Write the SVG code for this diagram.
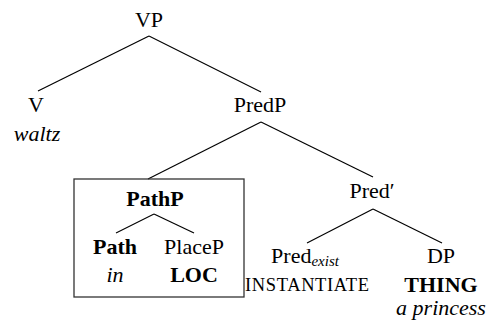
<svg xmlns="http://www.w3.org/2000/svg" width="494" height="327" viewBox="0 0 494 327" font-family="'Liberation Serif', Tinos, 'DejaVu Serif', serif">
<style>
text{font-family:'Liberation Serif',Tinos,'DejaVu Serif',serif;font-size:22px;fill:#000;text-anchor:middle}
.b{font-weight:bold}
.i{font-style:italic}
.sc{font-size:18.5px}
.sub{font-size:15px;font-style:italic}
.e{stroke:#000;stroke-width:1.2;fill:none}
.box{stroke:#333;stroke-width:1.3;fill:none}
</style>
<rect width="494" height="327" fill="#fff"/>
<g id="connectors">
<line class="e" x1="149" y1="36" x2="38" y2="91"/>
<line class="e" x1="149" y1="36" x2="261" y2="92"/>
<line class="e" x1="261" y1="122" x2="148" y2="179"/>
<line class="e" x1="261" y1="122" x2="373" y2="177"/>
<line class="e" x1="154" y1="214" x2="116" y2="233"/>
<line class="e" x1="154" y1="214" x2="194" y2="233"/>
<line class="e" x1="373" y1="209" x2="307" y2="243"/>
<line class="e" x1="373" y1="209" x2="442" y2="243"/>
</g>
<g id="VP"><text x="149" y="27">VP</text></g>
<g id="V"><text x="36" y="112">V</text><text class="i" x="37" y="141">waltz</text></g>
<g id="PredP"><text x="260" y="112">PredP</text></g>
<g id="PathP-box"><rect class="box" x="74" y="179" width="170" height="118"/></g>
<g id="PathP"><text class="b" x="155" y="206">PathP</text></g>
<g id="Path"><text class="b" x="115" y="254">Path</text><text class="i" x="115" y="282">in</text></g>
<g id="PlaceP"><text x="194" y="254">PlaceP</text><text class="b" x="194" y="282">LOC</text></g>
<g id="PredBar"><text x="372" y="198">Pred′</text></g>
<g id="Pred"><text x="305" y="263">Pred<tspan class="sub" dy="3">exist</tspan></text><text class="sc" x="307" y="291" textLength="124">INSTANTIATE</text></g>
<g id="DP"><text x="441" y="263">DP</text><text class="b" x="441" y="292">THING</text><text class="i" x="441" y="315">a princess</text></g>
</svg>
